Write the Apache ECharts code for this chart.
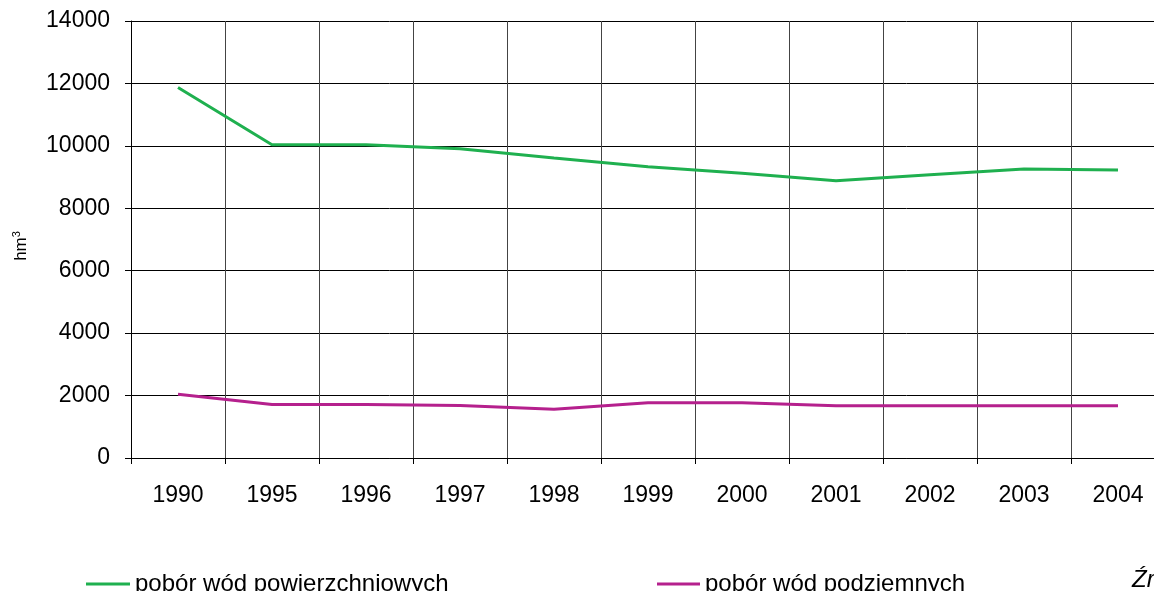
<!DOCTYPE html>
<html><head><meta charset="utf-8">
<script src="https://cdn.jsdelivr.net/npm/echarts@6/dist/echarts.min.js"></script>
<style>html,body{margin:0;padding:0;background:#fff;overflow:hidden}#c{width:1200px;height:591px}</style>
</head><body><div id="c"></div>
<script>
const categories = ['1990','1995','1996','1997','1998','1999','2000','2001','2002','2003','2004'];
const surfaceWater = [11870, 10035, 10035, 9907, 9610, 9330, 9120, 8885, 9076, 9258, 9226];
const groundWater = [2045, 1716, 1716, 1684, 1560, 1768, 1768, 1673, 1673, 1673, 1673];
const seriesNames = ['pobór wód powierzchniowych', 'pobór wód podziemnych'];
const yTicks = [0, 2000, 4000, 6000, 8000, 10000, 12000, 14000];
const unitText = 'hm{s|3}';
const sourceText = 'Źródło: GUS';

const font = 'Liberation Sans, Arial, sans-serif';
const chart = echarts.init(document.getElementById('c'), null, {renderer: 'canvas'});
chart.setOption({
  animation: false,
  backgroundColor: '#fff',
  grid: {left: 131, top: 21, width: 1034, height: 437, containLabel: false},
  xAxis: {
    type: 'category', data: categories, boundaryGap: true,
    axisLine: {lineStyle: {color: '#000', width: 1}},
    axisTick: {show: true, length: 6, lineStyle: {color: '#000'}},
    axisLabel: {color: '#000', fontSize: 23, fontFamily: font, margin: 26},
    splitLine: {show: true, lineStyle: {color: '#444', width: 1}}
  },
  yAxis: {
    type: 'value', min: yTicks[0], max: yTicks[yTicks.length - 1], interval: 2000,
    axisLine: {show: true, lineStyle: {color: '#000', width: 1}},
    axisTick: {show: true, length: 6, lineStyle: {color: '#000'}},
    axisLabel: {color: '#000', fontSize: 23, fontFamily: font, margin: 21, formatter: v => String(v)},
    splitLine: {show: true, lineStyle: {color: '#000', width: 1}}
  },
  legend: [
    {data: [{name: seriesNames[0], icon: 'rect'}], left: 81, top: 567, itemWidth: 44, itemHeight: 3, itemGap: 7,
     textStyle: {fontSize: 24, fontFamily: font, color: '#000'}},
    {data: [{name: seriesNames[1], icon: 'rect'}], left: 652, top: 567, itemWidth: 43, itemHeight: 3, itemGap: 7,
     textStyle: {fontSize: 24, fontFamily: font, color: '#000'}}
  ],
  graphic: [
    {type: 'text', left: 1132, top: 568,
     style: {text: sourceText, fontSize: 24, fontStyle: 'italic', fontFamily: font, fill: '#000'}},
    {type: 'text', x: 21, y: 246, rotation: Math.PI / 2,
     style: {text: unitText, fontSize: 17, fontFamily: font, fill: '#000', align: 'center', verticalAlign: 'middle',
       rich: {s: {fontSize: 11, fontFamily: font, fill: '#000', verticalAlign: 'top', padding: [0, 0, 8, 0]}}}}
  ],
  series: [
    {name: seriesNames[0], type: 'line', data: surfaceWater, showSymbol: false, symbol: 'none',
     lineStyle: {color: '#1fb04f', width: 3}, itemStyle: {color: '#1fb04f'}},
    {name: seriesNames[1], type: 'line', data: groundWater, showSymbol: false, symbol: 'none',
     lineStyle: {color: '#b5208d', width: 3}, itemStyle: {color: '#b5208d'}}
  ]
});
</script></body></html>
